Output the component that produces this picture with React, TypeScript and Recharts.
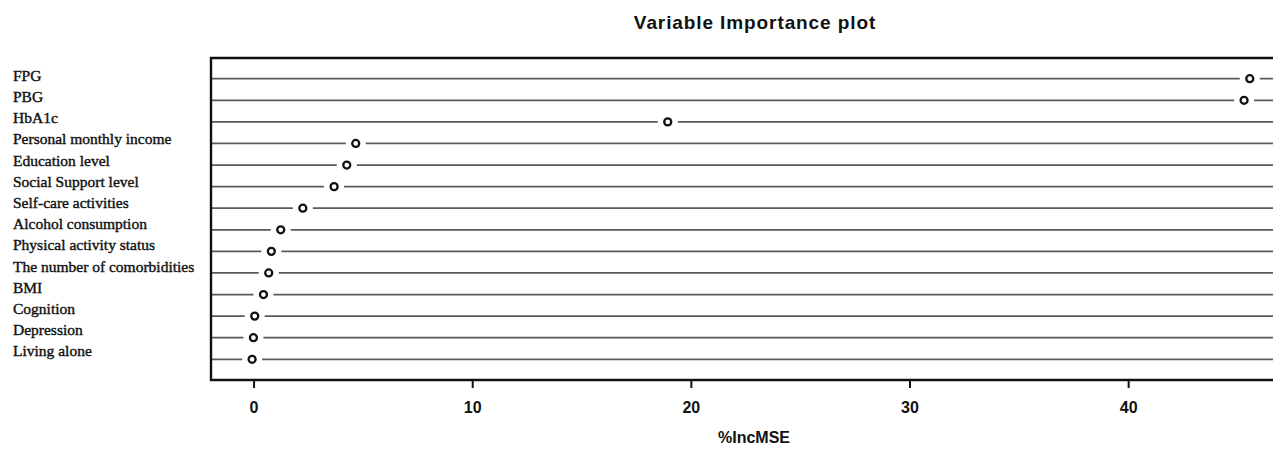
import React from 'react';
import { ScatterChart, Scatter, XAxis, YAxis, CartesianGrid, ReferenceArea, Label } from 'recharts';

const variables = [
  'FPG',
  'PBG',
  'HbA1c',
  'Personal monthly income',
  'Education level',
  'Social Support level',
  'Self-care activities',
  'Alcohol consumption',
  'Physical activity status',
  'The number of comorbidities',
  'BMI',
  'Cognition',
  'Depression',
  'Living alone',
];
const incMSE = [45.54, 45.28, 18.92, 4.65, 4.24, 3.66, 2.23, 1.22, 0.79, 0.67, 0.43, 0.03, -0.03, -0.09];
const xTicks = [0, 10, 20, 30, 40];
const xDomain: [number, number] = [-1.97, 47.7];

// row position of each variable (1 = top row)
const rows = variables.map((_, i) => i + 1);
const data = variables.map((name, i) => ({ name, row: rows[i], value: incMSE[i] }));
const yDomain: [number, number] = [0.04, variables.length + 0.96];

const OpenDot = (props: any) => {
  const { cx, cy } = props;
  if (cx == null || cy == null) return null;
  return (
    <g>
      <rect x={cx - 10} y={cy - 4} width={20} height={8} fill="#ffffff" />
      <circle cx={cx} cy={cy} r={3.5} fill="#ffffff" stroke="#111111" strokeWidth={2.3} />
    </g>
  );
};

const RowTick = (props: any) => {
  const { y, payload } = props;
  const idx = rows.indexOf(payload.value);
  if (idx < 0) return null;
  return (
    <text
      x={5}
      y={y}
      dy={2.1 - idx * 0.39}
      textAnchor="start"
      fontFamily="'Liberation Serif', 'Times New Roman', serif"
      fontSize={15.5}
      fill="#111"
      stroke="#111"
      strokeWidth={0.4}
    >
      {variables[idx]}
    </text>
  );
};

export default function App() {
  return (
    <div style={{ position: 'relative', width: 1273, height: 443, overflow: 'hidden', background: '#fff' }}>
      <div
        style={{
          position: 'absolute',
          left: 747 - 300,
          width: 600,
          top: 4,
          textAlign: 'center',
          fontFamily: "'Liberation Sans', Arial, sans-serif",
          fontWeight: 'bold',
          fontSize: 19,
          letterSpacing: 0.9,
          color: '#111',
        }}
      >
        Variable Importance plot
      </div>
      <ScatterChart width={1300} height={443} margin={{ top: 50, right: 11, bottom: 0, left: 0 }}>
        <CartesianGrid vertical={false} stroke="#5a5a5a" strokeWidth={1.8} />
        <XAxis
          type="number"
          dataKey="value"
          domain={xDomain}
          ticks={xTicks}
          allowDataOverflow
          height={71}
          axisLine={false}
          tickLine={{ stroke: '#111', strokeWidth: 2 }}
          tickSize={8}
          tickMargin={14}
          tick={{ fontFamily: "'Liberation Sans', Arial, sans-serif", fontWeight: 'bold', fontSize: 16, fill: '#111' }}
        >
          <Label
            value="%IncMSE"
            position="insideBottom"
            offset={8}
            style={{ fontFamily: "'Liberation Sans', Arial, sans-serif", fontWeight: 'bold', fontSize: 16, fill: '#111' }}
          />
        </XAxis>
        <YAxis
          type="number"
          dataKey="row"
          domain={yDomain}
          reversed
          allowDataOverflow
          ticks={rows}
          interval={0}
          width={203}
          axisLine={false}
          tickLine={false}
          tick={<RowTick />}
        />
        <ReferenceArea
          x1={xDomain[0]}
          x2={xDomain[1]}
          y1={yDomain[0]}
          y2={yDomain[1]}
          fill="none"
          stroke="#111"
          strokeWidth={2.4}
          ifOverflow="visible"
        />
        <Scatter data={data} shape={<OpenDot />} isAnimationActive={false} />
      </ScatterChart>
    </div>
  );
}
